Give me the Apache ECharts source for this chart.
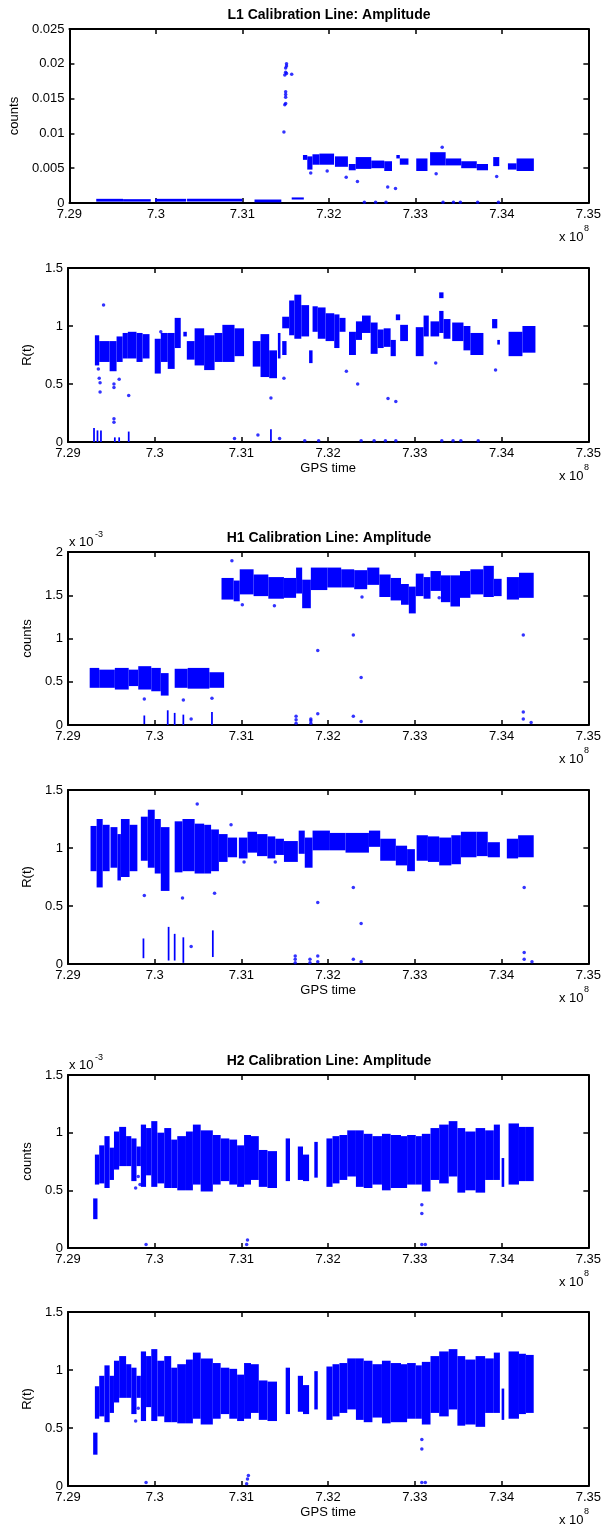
<!DOCTYPE html>
<html>
<head>
<meta charset="utf-8">
<script src="https://cdn.jsdelivr.net/npm/echarts@6/dist/echarts.min.js"></script>
<style>
  html, body { margin: 0; padding: 0; background: #fff; }
  #main { width: 604px; height: 1531px; }
</style>
</head>
<body>
<div id="main"></div>
<script>
// x axis (GPS time, units of 1e8)
var xMin = 7.29, xMax = 7.35, xStep = 0.01;

// bands are [x0, x1, low, high], dots are [x, y]
var l1AmpBands = [
  [7.2931, 7.2962, 0.0002, 0.0006], [7.2962, 7.2994, 0.0002, 0.00055],
  [7.2999, 7.3035, 0.0002, 0.0006], [7.3036, 7.3100, 0.0002, 0.0006],
  [7.3114, 7.3145, 0.0001, 0.0005], [7.3157, 7.3171, 0.0005, 0.0008],
  [7.3170, 7.3175, 0.0062, 0.0069], [7.3175, 7.3181, 0.0048, 0.0067],
  [7.3181, 7.3189, 0.0055, 0.0070], [7.3189, 7.3206, 0.0055, 0.0071],
  [7.3207, 7.3222, 0.0052, 0.0067], [7.3223, 7.3231, 0.0047, 0.0056],
  [7.3231, 7.3249, 0.0049, 0.0066], [7.3249, 7.3264, 0.0050, 0.0061],
  [7.3264, 7.3273, 0.0046, 0.0060], [7.3278, 7.3282, 0.0064, 0.0069],
  [7.3282, 7.3292, 0.0055, 0.0064], [7.3301, 7.3314, 0.0046, 0.0064],
  [7.3317, 7.3335, 0.0054, 0.0073], [7.3335, 7.3353, 0.0054, 0.0064],
  [7.3353, 7.3371, 0.0050, 0.0060], [7.3371, 7.3384, 0.0047, 0.0056],
  [7.3390, 7.3397, 0.0053, 0.0066], [7.3407, 7.3417, 0.0048, 0.0057],
  [7.3417, 7.3437, 0.0046, 0.0064]
];
var l1AmpDots = [
  [7.3148, 0.0102], [7.3149, 0.0141], [7.3150, 0.0143], [7.3150, 0.0152], [7.3150, 0.0156],
  [7.3150, 0.0160], [7.3149, 0.0184], [7.3150, 0.0188], [7.3151, 0.0186], [7.3150, 0.0194],
  [7.3151, 0.0197], [7.3151, 0.0200], [7.3157, 0.0185],
  [7.3179, 0.0043], [7.3198, 0.0046], [7.3220, 0.0037], [7.3233, 0.0031], [7.3268, 0.0023],
  [7.3277, 0.0021], [7.3324, 0.0042], [7.3331, 0.0080], [7.3394, 0.0038],
  [7.3241, 0.0001], [7.3254, 0.0001], [7.3266, 0.0001], [7.3332, 0.0001], [7.3344, 0.0001],
  [7.3352, 0.0001], [7.3372, 0.0001], [7.3396, 0.0001]
];

var l1RBands = [
  [7.2931, 7.2936, 0.66, 0.92], [7.2936, 7.2948, 0.69, 0.87], [7.2948, 7.2956, 0.61, 0.87],
  [7.2956, 7.2963, 0.69, 0.91], [7.2963, 7.2969, 0.72, 0.94], [7.2969, 7.2979, 0.72, 0.95],
  [7.2979, 7.2986, 0.69, 0.94], [7.2986, 7.2994, 0.72, 0.93], [7.3000, 7.3007, 0.59, 0.89],
  [7.3007, 7.3015, 0.69, 0.94], [7.3015, 7.3023, 0.63, 0.94], [7.3023, 7.3030, 0.81, 1.07],
  [7.3033, 7.3037, 0.91, 0.95], [7.3037, 7.3046, 0.71, 0.87], [7.3046, 7.3057, 0.66, 0.98],
  [7.3057, 7.3069, 0.62, 0.92], [7.3069, 7.3078, 0.69, 0.94], [7.3078, 7.3092, 0.69, 1.01],
  [7.3092, 7.3103, 0.74, 0.98], [7.3113, 7.3122, 0.65, 0.87], [7.3122, 7.3132, 0.56, 0.93],
  [7.3132, 7.3141, 0.55, 0.79], [7.3142, 7.3145, 0.72, 0.94], [7.3147, 7.3155, 0.98, 1.08],
  [7.3147, 7.3152, 0.75, 0.87], [7.3155, 7.3161, 0.92, 1.22], [7.3161, 7.3169, 0.89, 1.27],
  [7.3169, 7.3178, 0.91, 1.18], [7.3178, 7.3182, 0.68, 0.79], [7.3182, 7.3188, 0.95, 1.17],
  [7.3188, 7.3197, 0.89, 1.16], [7.3197, 7.3207, 0.87, 1.11], [7.3207, 7.3213, 0.81, 1.10],
  [7.3213, 7.3220, 0.95, 1.07], [7.3224, 7.3232, 0.75, 0.95], [7.3232, 7.3239, 0.88, 1.04],
  [7.3239, 7.3249, 0.94, 1.09], [7.3249, 7.3257, 0.76, 1.03], [7.3257, 7.3264, 0.81, 0.97],
  [7.3264, 7.3272, 0.82, 0.98], [7.3272, 7.3278, 0.74, 0.88], [7.3278, 7.3283, 1.05, 1.10],
  [7.3283, 7.3292, 0.87, 1.01], [7.3301, 7.3310, 0.74, 0.99], [7.3310, 7.3316, 0.91, 1.09],
  [7.3318, 7.3328, 0.91, 1.04], [7.3328, 7.3333, 1.24, 1.29], [7.3328, 7.3333, 0.94, 1.13],
  [7.3333, 7.3341, 0.89, 1.06], [7.3343, 7.3356, 0.87, 1.03], [7.3356, 7.3364, 0.79, 1.00],
  [7.3364, 7.3379, 0.75, 0.94], [7.3389, 7.3395, 0.98, 1.06], [7.3395, 7.3398, 0.84, 0.88],
  [7.3408, 7.3424, 0.74, 0.95], [7.3424, 7.3439, 0.77, 1.00],
  [7.2929, 7.2931, 0, 0.12], [7.2933, 7.2935, 0, 0.10], [7.2937, 7.2939, 0, 0.10],
  [7.2953, 7.2955, 0, 0.04], [7.2958, 7.2960, 0, 0.04], [7.2969, 7.2971, 0, 0.09],
  [7.3133, 7.3135, 0, 0.11]
];
var l1RDots = [
  [7.2941, 1.18], [7.2935, 0.63], [7.2936, 0.55], [7.2937, 0.51], [7.2937, 0.43],
  [7.2953, 0.47], [7.2953, 0.50], [7.2953, 0.17], [7.2953, 0.20], [7.2959, 0.54], [7.2970, 0.40],
  [7.3007, 0.95], [7.3134, 0.38], [7.3149, 0.55], [7.3221, 0.61], [7.3234, 0.50],
  [7.3269, 0.375], [7.3278, 0.35], [7.3324, 0.68], [7.3393, 0.62],
  [7.3092, 0.03], [7.3119, 0.06], [7.3144, 0.03], [7.3173, 0.01], [7.3189, 0.01], [7.3238, 0.01],
  [7.3253, 0.01], [7.3266, 0.01], [7.3278, 0.01], [7.3331, 0.01], [7.3344, 0.01],
  [7.3353, 0.01], [7.3373, 0.01]
];

// H1 counts in units of 1e-3
var h1AmpBands = [
  [7.2925, 7.2936, 0.43, 0.66], [7.2936, 7.2954, 0.43, 0.64], [7.2954, 7.2970, 0.41, 0.66],
  [7.2970, 7.2981, 0.45, 0.64], [7.2981, 7.2996, 0.41, 0.68], [7.2996, 7.3007, 0.39, 0.66],
  [7.3007, 7.3016, 0.34, 0.60], [7.3023, 7.3038, 0.43, 0.65], [7.3038, 7.3063, 0.42, 0.66],
  [7.3063, 7.3080, 0.43, 0.61],
  [7.3077, 7.3091, 1.45, 1.70], [7.3091, 7.3098, 1.43, 1.67], [7.3098, 7.3114, 1.51, 1.80],
  [7.3114, 7.3131, 1.49, 1.74], [7.3131, 7.3149, 1.46, 1.71], [7.3149, 7.3163, 1.47, 1.70],
  [7.3163, 7.3170, 1.52, 1.82], [7.3170, 7.3180, 1.35, 1.68], [7.3180, 7.3199, 1.56, 1.82],
  [7.3199, 7.3215, 1.59, 1.82], [7.3215, 7.3230, 1.59, 1.80], [7.3230, 7.3245, 1.57, 1.79],
  [7.3245, 7.3259, 1.62, 1.82], [7.3259, 7.3272, 1.48, 1.74], [7.3272, 7.3284, 1.44, 1.70],
  [7.3284, 7.3293, 1.39, 1.63], [7.3293, 7.3301, 1.29, 1.60], [7.3301, 7.3310, 1.49, 1.75],
  [7.3310, 7.3318, 1.46, 1.71], [7.3318, 7.3330, 1.55, 1.78], [7.3330, 7.3341, 1.42, 1.73],
  [7.3341, 7.3352, 1.37, 1.73], [7.3352, 7.3364, 1.47, 1.78], [7.3364, 7.3379, 1.51, 1.80],
  [7.3379, 7.3391, 1.48, 1.84], [7.3391, 7.3400, 1.49, 1.69], [7.3406, 7.3420, 1.45, 1.71],
  [7.3420, 7.3437, 1.47, 1.76],
  [7.2987, 7.2989, 0.01, 0.11], [7.3014, 7.3016, 0, 0.17], [7.3022, 7.3024, 0, 0.14],
  [7.3032, 7.3034, 0, 0.12], [7.3065, 7.3067, 0, 0.15]
];
var h1AmpDots = [
  [7.3089, 1.90], [7.3101, 1.39], [7.3138, 1.38], [7.3239, 1.48], [7.3328, 1.47],
  [7.3188, 0.86], [7.3229, 1.04], [7.3238, 0.55], [7.3425, 1.04],
  [7.2988, 0.30], [7.3033, 0.29], [7.3066, 0.31], [7.3042, 0.07],
  [7.3163, 0.02], [7.3163, 0.06], [7.3163, 0.10], [7.3180, 0.02], [7.3180, 0.05], [7.3180, 0.07],
  [7.3188, 0.13], [7.3229, 0.10], [7.3238, 0.04], [7.3425, 0.15], [7.3425, 0.07], [7.3434, 0.03]
];

var h1RBands = [
  [7.2926, 7.2933, 0.80, 1.19], [7.2933, 7.2940, 0.66, 1.25], [7.2940, 7.2948, 0.80, 1.20],
  [7.2949, 7.2957, 0.83, 1.18], [7.2957, 7.2961, 0.72, 1.12], [7.2961, 7.2971, 0.75, 1.25],
  [7.2971, 7.2980, 0.80, 1.20], [7.2984, 7.2992, 0.89, 1.27], [7.2992, 7.3000, 0.83, 1.33],
  [7.3000, 7.3007, 0.78, 1.25], [7.3007, 7.3017, 0.63, 1.18], [7.3023, 7.3032, 0.79, 1.23],
  [7.3032, 7.3046, 0.80, 1.25], [7.3046, 7.3057, 0.78, 1.21], [7.3057, 7.3065, 0.78, 1.20],
  [7.3065, 7.3074, 0.80, 1.16], [7.3074, 7.3084, 0.88, 1.12], [7.3084, 7.3095, 0.92, 1.09],
  [7.3097, 7.3107, 0.91, 1.09], [7.3107, 7.3118, 0.96, 1.14], [7.3118, 7.3130, 0.93, 1.12],
  [7.3130, 7.3139, 0.91, 1.10], [7.3139, 7.3149, 0.94, 1.08], [7.3149, 7.3165, 0.88, 1.06],
  [7.3166, 7.3173, 0.95, 1.15], [7.3173, 7.3182, 0.83, 1.09], [7.3182, 7.3202, 0.98, 1.15],
  [7.3202, 7.3220, 0.98, 1.13], [7.3220, 7.3247, 0.96, 1.13], [7.3247, 7.3260, 1.01, 1.15],
  [7.3260, 7.3278, 0.89, 1.08], [7.3278, 7.3291, 0.85, 1.02], [7.3291, 7.3300, 0.80, 0.99],
  [7.3302, 7.3315, 0.89, 1.11], [7.3315, 7.3328, 0.88, 1.10], [7.3328, 7.3342, 0.85, 1.09],
  [7.3342, 7.3353, 0.86, 1.11], [7.3353, 7.3371, 0.92, 1.14], [7.3371, 7.3384, 0.93, 1.14],
  [7.3384, 7.3398, 0.92, 1.05], [7.3406, 7.3419, 0.91, 1.08], [7.3419, 7.3437, 0.92, 1.11],
  [7.2986, 7.2988, 0.05, 0.22], [7.3015, 7.3017, 0.03, 0.32], [7.3022, 7.3024, 0.03, 0.26],
  [7.3032, 7.3034, 0.01, 0.23], [7.3066, 7.3068, 0.06, 0.29]
];
var h1RDots = [
  [7.3049, 1.38], [7.3088, 1.20], [7.2988, 0.59], [7.3032, 0.57], [7.3069, 0.61],
  [7.3103, 0.88], [7.3139, 0.88], [7.3229, 0.66], [7.3238, 0.35], [7.3188, 0.53],
  [7.3426, 0.66], [7.3426, 0.10], [7.3426, 0.04], [7.3435, 0.02], [7.3229, 0.04], [7.3238, 0.02],
  [7.3162, 0.01], [7.3162, 0.04], [7.3162, 0.07], [7.3179, 0.01], [7.3179, 0.04],
  [7.3188, 0.07], [7.3188, 0.02], [7.3042, 0.15]
];

// H2 counts in units of 1e-3
var h2AmpBands = [
  [7.2929, 7.2934, 0.25, 0.43], [7.2931, 7.2936, 0.55, 0.81], [7.2936, 7.2942, 0.56, 0.89],
  [7.2942, 7.2948, 0.52, 0.97], [7.2948, 7.2953, 0.59, 0.87], [7.2953, 7.2959, 0.68, 1.01],
  [7.2959, 7.2967, 0.71, 1.05], [7.2967, 7.2973, 0.71, 0.97], [7.2973, 7.2979, 0.58, 0.95],
  [7.2979, 7.2984, 0.71, 0.88], [7.2984, 7.2990, 0.53, 1.07], [7.2990, 7.2996, 0.63, 1.04],
  [7.2996, 7.3003, 0.53, 1.10], [7.3003, 7.3011, 0.56, 1.00], [7.3011, 7.3019, 0.52, 1.04],
  [7.3019, 7.3026, 0.52, 0.94], [7.3026, 7.3036, 0.50, 0.97], [7.3036, 7.3044, 0.50, 1.01],
  [7.3044, 7.3053, 0.55, 1.07], [7.3053, 7.3067, 0.49, 1.02], [7.3067, 7.3076, 0.55, 0.98],
  [7.3076, 7.3086, 0.58, 0.95], [7.3086, 7.3095, 0.55, 0.94], [7.3095, 7.3103, 0.53, 0.89],
  [7.3103, 7.3111, 0.55, 0.98], [7.3111, 7.3120, 0.59, 0.97], [7.3120, 7.3130, 0.53, 0.85],
  [7.3130, 7.3141, 0.52, 0.84], [7.3151, 7.3156, 0.58, 0.95], [7.3165, 7.3171, 0.59, 0.88],
  [7.3171, 7.3178, 0.58, 0.81], [7.3184, 7.3188, 0.61, 0.92], [7.3198, 7.3205, 0.53, 0.95],
  [7.3205, 7.3213, 0.56, 0.97], [7.3213, 7.3222, 0.59, 0.98], [7.3222, 7.3232, 0.62, 1.02],
  [7.3232, 7.3241, 0.53, 1.02], [7.3241, 7.3251, 0.52, 0.99], [7.3251, 7.3262, 0.55, 0.97],
  [7.3262, 7.3272, 0.50, 0.99], [7.3272, 7.3284, 0.52, 0.98], [7.3284, 7.3291, 0.52, 0.97],
  [7.3291, 7.3301, 0.55, 0.98], [7.3301, 7.3308, 0.55, 0.97], [7.3308, 7.3318, 0.49, 0.99],
  [7.3318, 7.3328, 0.59, 1.04], [7.3328, 7.3339, 0.56, 1.07], [7.3339, 7.3349, 0.62, 1.10],
  [7.3349, 7.3358, 0.48, 1.04], [7.3358, 7.3370, 0.50, 1.01], [7.3370, 7.3381, 0.48, 1.04],
  [7.3381, 7.3391, 0.59, 1.02], [7.3391, 7.3398, 0.59, 1.07], [7.3400, 7.3403, 0.53, 0.78],
  [7.3408, 7.3420, 0.55, 1.08], [7.3420, 7.3428, 0.58, 1.05], [7.3428, 7.3437, 0.58, 1.05]
];
var h2AmpDots = [
  [7.2990, 0.03], [7.3106, 0.03], [7.3107, 0.07], [7.3308, 0.375], [7.3308, 0.30],
  [7.3308, 0.03], [7.3312, 0.03], [7.2978, 0.52], [7.2981, 0.62], [7.2983, 0.55]
];

var h2RBands = [
  [7.2929, 7.2934, 0.27, 0.46], [7.2931, 7.2936, 0.58, 0.86], [7.2936, 7.2942, 0.60, 0.95],
  [7.2942, 7.2948, 0.55, 1.04], [7.2948, 7.2953, 0.63, 0.95], [7.2953, 7.2959, 0.72, 1.08],
  [7.2959, 7.2967, 0.76, 1.12], [7.2967, 7.2973, 0.76, 1.05], [7.2973, 7.2979, 0.62, 1.02],
  [7.2979, 7.2984, 0.76, 0.95], [7.2984, 7.2990, 0.56, 1.16], [7.2990, 7.2996, 0.68, 1.12],
  [7.2996, 7.3003, 0.56, 1.18], [7.3003, 7.3011, 0.60, 1.08], [7.3011, 7.3019, 0.55, 1.12],
  [7.3019, 7.3026, 0.55, 1.02], [7.3026, 7.3036, 0.54, 1.05], [7.3036, 7.3044, 0.54, 1.09],
  [7.3044, 7.3053, 0.58, 1.15], [7.3053, 7.3067, 0.53, 1.10], [7.3067, 7.3076, 0.58, 1.06],
  [7.3076, 7.3086, 0.62, 1.02], [7.3086, 7.3095, 0.58, 1.01], [7.3095, 7.3103, 0.56, 0.96],
  [7.3103, 7.3111, 0.58, 1.06], [7.3111, 7.3120, 0.63, 1.05], [7.3120, 7.3130, 0.57, 0.91],
  [7.3130, 7.3141, 0.56, 0.90], [7.3151, 7.3156, 0.62, 1.02], [7.3165, 7.3171, 0.64, 0.95],
  [7.3171, 7.3178, 0.62, 0.87], [7.3184, 7.3188, 0.66, 0.99], [7.3198, 7.3205, 0.57, 1.03],
  [7.3205, 7.3213, 0.60, 1.05], [7.3213, 7.3222, 0.63, 1.06], [7.3222, 7.3232, 0.66, 1.10],
  [7.3232, 7.3241, 0.57, 1.10], [7.3241, 7.3251, 0.55, 1.08], [7.3251, 7.3262, 0.59, 1.05],
  [7.3262, 7.3272, 0.54, 1.08], [7.3272, 7.3284, 0.55, 1.06], [7.3284, 7.3291, 0.55, 1.05],
  [7.3291, 7.3301, 0.58, 1.06], [7.3301, 7.3308, 0.58, 1.04], [7.3308, 7.3318, 0.53, 1.07],
  [7.3318, 7.3328, 0.63, 1.12], [7.3328, 7.3339, 0.60, 1.16], [7.3339, 7.3349, 0.66, 1.18],
  [7.3349, 7.3358, 0.52, 1.12], [7.3358, 7.3370, 0.53, 1.09], [7.3370, 7.3381, 0.51, 1.12],
  [7.3381, 7.3391, 0.63, 1.10], [7.3391, 7.3398, 0.63, 1.15], [7.3400, 7.3403, 0.57, 0.84],
  [7.3408, 7.3420, 0.58, 1.16], [7.3420, 7.3428, 0.62, 1.14], [7.3428, 7.3437, 0.63, 1.13]
];
var h2RDots = [
  [7.2990, 0.03], [7.3106, 0.02], [7.3107, 0.06], [7.3108, 0.09], [7.3308, 0.40],
  [7.3308, 0.32], [7.3308, 0.03], [7.3312, 0.03], [7.2978, 0.56], [7.2981, 0.67]
];

var panels = [
  { title: 'L1 Calibration Line: Amplitude', top: 29, h: 174, yMax: 0.025, yStep: 0.005, yName: 'counts', yGap: 44, bands: l1AmpBands, dots: l1AmpDots },
  { top: 268, h: 174, yMax: 1.5, yStep: 0.5, yName: 'R(t)', yGap: 31, xName: 'GPS time', bands: l1RBands, dots: l1RDots },
  { title: 'H1 Calibration Line: Amplitude', top: 552, h: 173, yMax: 2, yStep: 0.5, yName: 'counts', yGap: 30, exp: '-3', bands: h1AmpBands, dots: h1AmpDots },
  { top: 790, h: 174, yMax: 1.5, yStep: 0.5, yName: 'R(t)', yGap: 31, xName: 'GPS time', bands: h1RBands, dots: h1RDots },
  { title: 'H2 Calibration Line: Amplitude', top: 1075, h: 173, yMax: 1.5, yStep: 0.5, yName: 'counts', yGap: 29, exp: '-3', bands: h2AmpBands, dots: h2AmpDots },
  { top: 1312, h: 174, yMax: 1.5, yStep: 0.5, yName: 'R(t)', yGap: 31, xName: 'GPS time', bands: h2RBands, dots: h2RDots }
];

var FONT = '"Liberation Sans", Arial, sans-serif';
var LEFT = 68, WIDTH = 522, BLUE = '#0000ff';

function fmt(v) {
  return String(parseFloat(v.toFixed(4)));
}

function drawBand(params, api) {
  var a = api.coord([api.value(0), api.value(3)]);
  var b = api.coord([api.value(1), api.value(2)]);
  return {
    type: 'rect',
    shape: { x: a[0], y: a[1], width: Math.max(b[0] - a[0], 1.5), height: Math.max(b[1] - a[1], 1.5) },
    style: { fill: BLUE }
  };
}

function axisBase(extra) {
  var o = {
    type: 'value',
    axisLine: { show: true, onZero: false, lineStyle: { color: '#000', width: 2 } },
    axisTick: { show: true, inside: true, length: 5, lineStyle: { color: '#000', width: 1.5 } },
    splitLine: { show: false },
    axisLabel: { show: false }
  };
  for (var k in extra) o[k] = extra[k];
  return o;
}

var grids = [], xAxes = [], yAxes = [], series = [], graphics = [];

panels.forEach(function (p, i) {
  grids.push({ left: LEFT, width: WIDTH, top: p.top, height: p.h });
  var labelStyle = { show: true, color: '#000', fontSize: 13, fontFamily: FONT, formatter: fmt, showMinLabel: true, showMaxLabel: true };

  var xb = axisBase({ gridIndex: i, position: 'bottom', min: xMin, max: xMax, interval: xStep,
    axisLabel: Object.assign({ margin: 5 }, labelStyle) });
  if (p.xName) {
    xb.name = p.xName; xb.nameLocation = 'middle'; xb.nameGap = 20;
    xb.nameTextStyle = { color: '#000', fontSize: 13, fontFamily: FONT };
  }
  xAxes.push(xb);
  xAxes.push(axisBase({ gridIndex: i, position: 'top', min: xMin, max: xMax, interval: xStep }));

  yAxes.push(axisBase({ gridIndex: i, position: 'left', min: 0, max: p.yMax, interval: p.yStep,
    axisLabel: Object.assign({ margin: 5 }, labelStyle),
    name: p.yName, nameLocation: 'middle', nameGap: p.yGap,
    nameTextStyle: { color: '#000', fontSize: 13, fontFamily: FONT } }));
  yAxes.push(axisBase({ gridIndex: i, position: 'right', min: 0, max: p.yMax, interval: p.yStep }));

  series.push({
    type: 'custom', xAxisIndex: 2 * i, yAxisIndex: 2 * i,
    renderItem: drawBand, encode: { x: [0, 1], y: [2, 3] },
    data: p.bands, silent: true
  });
  series.push({
    type: 'scatter', xAxisIndex: 2 * i, yAxisIndex: 2 * i,
    symbol: 'circle', symbolSize: 3.5, itemStyle: { color: BLUE },
    data: p.dots, silent: true
  });

  var bottom = p.top + p.h;
  if (p.title) {
    graphics.push({ type: 'text', x: LEFT + WIDTH / 2, y: p.top - 14,
      style: { text: p.title, align: 'center', verticalAlign: 'middle', fill: '#000', font: 'bold 14px ' + FONT } });
  }
  // the "x 10^8" multiplier under every x axis
  graphics.push({ type: 'text', x: 559, y: bottom + 34,
    style: { text: 'x 10', align: 'left', verticalAlign: 'middle', fill: '#000', font: '13px ' + FONT } });
  graphics.push({ type: 'text', x: 584, y: bottom + 26,
    style: { text: '8', align: 'left', verticalAlign: 'middle', fill: '#000', font: '9px ' + FONT } });
  if (p.exp) {
    graphics.push({ type: 'text', x: LEFT + 1, y: p.top - 10,
      style: { text: 'x 10', align: 'left', verticalAlign: 'middle', fill: '#000', font: '13px ' + FONT } });
    graphics.push({ type: 'text', x: LEFT + 27, y: p.top - 17,
      style: { text: p.exp, align: 'left', verticalAlign: 'middle', fill: '#000', font: '9px ' + FONT } });
  }
});

var chart = echarts.init(document.getElementById('main'), null, { renderer: 'canvas' });
chart.setOption({
  backgroundColor: '#fff',
  animation: false,
  grid: grids,
  xAxis: xAxes,
  yAxis: yAxes,
  series: series,
  graphic: graphics
});
</script>
</body>
</html>
